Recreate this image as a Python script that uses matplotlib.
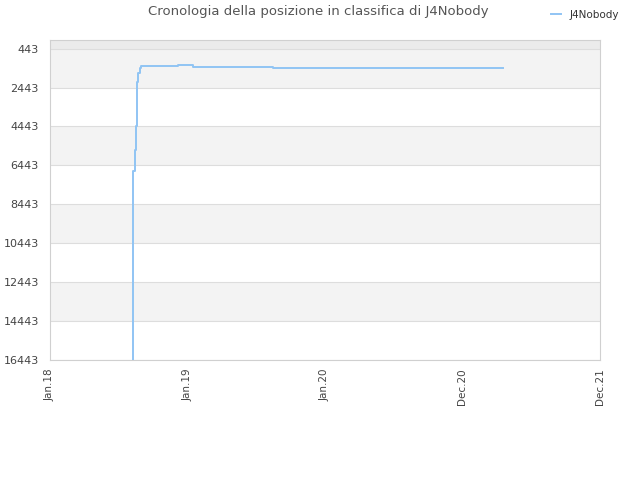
import matplotlib
matplotlib.use("Agg")
import matplotlib.pyplot as plt

# Data: day offsets from 2018-01-01 and ranking positions
days = [219, 220, 221, 225, 227, 231, 234, 239, 242, 340, 380, 592, 998, 1202]
ranks = [17000, 8250, 6720, 5640, 4400, 2140, 1680, 1420, 1345, 1282, 1369, 1420, 1457, 1457]

tick_days = [0, 365, 730, 1095, 1460]
tick_labels = ["Jan.18", "Jan.19", "Jan.20", "Dec.20", "Dec.21"]
y_ticks = [443, 2443, 4443, 6443, 8443, 10443, 12443, 14443, 16443]
series_name = "J4Nobody"
title = "Cronologia della posizione in classifica di J4Nobody"

fig = plt.figure(figsize=(6.4, 4.8), dpi=100)
ax = fig.add_axes([50/640, 1-360/480, 550/640, 320/480])

# background bands
ax.axhspan(0, 443, color="#ebebeb", zorder=0, lw=0)
for i in range(0, len(y_ticks) - 1, 2):
    ax.axhspan(y_ticks[i], y_ticks[i+1], color="#f3f3f3", zorder=0, lw=0)
for yt in y_ticks:
    ax.axhline(yt, color="#dddddd", lw=0.8, zorder=1)

ax.plot(days, ranks, drawstyle="steps-post", color="#90c4f4", lw=1.4, zorder=3, label=series_name)

ax.set_xlim(0, 1460)
ax.set_ylim(16443, 0)
ax.set_yticks(y_ticks)
ax.set_yticklabels([str(v) for v in y_ticks], fontsize=8, color="#444444")
ax.set_xticks(tick_days)
ax.set_xticklabels(tick_labels, rotation=90, fontsize=7.5, color="#444444")
ax.tick_params(axis="both", length=0, pad=6)
ax.tick_params(axis="y", pad=8)
for s in ax.spines.values():
    s.set_color("#d0d0d0")
    s.set_linewidth(0.8)

fig.text(318/640, 1-12/480, title, ha="center", va="center", fontsize=9.5, color="#555555")
leg = fig.legend(loc="center", bbox_to_anchor=(585/640, 1-15/480), frameon=False,
                 fontsize=7.5, handlelength=1.0, handletextpad=0.8)
for t in leg.get_texts():
    t.set_color("#333333")

fig.savefig("out.png", dpi=100)
